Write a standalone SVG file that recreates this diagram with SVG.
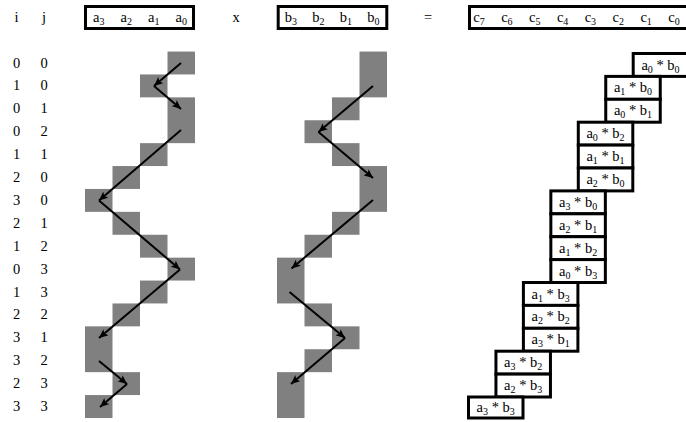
<svg xmlns="http://www.w3.org/2000/svg" width="686" height="422" viewBox="0 0 686 422">
<style>
text{font-family:"Liberation Serif","Times New Roman",Times,"DejaVu Serif",serif;font-size:14.5px;fill:#000;text-anchor:middle}
.s{font-size:10px}
.cell{fill:#808080}
.box{fill:#fff;stroke:#000;stroke-width:3}
.hbox{fill:none;stroke:#000;stroke-width:3}
.arr{stroke:#000;stroke-width:2;fill:none;marker-end:url(#ah)}
</style>
<defs>
<marker id="ah" markerUnits="userSpaceOnUse" markerWidth="10" markerHeight="8" refX="9" refY="4" orient="auto">
<path d="M0,0 L9,4 L0,8 L2,4 z" fill="#000"/>
</marker>
</defs>
<rect width="686" height="422" fill="#fff"/>

<g id="header">
<text x="16.5" y="21.5">i</text>
<text x="44" y="21.5">j</text>
<rect class="hbox" x="85.5" y="6.5" width="108" height="22"/>
<text x="98.75" y="21.5">a<tspan class="s" dy="3">3</tspan></text>
<text x="126.25" y="21.5">a<tspan class="s" dy="3">2</tspan></text>
<text x="153.75" y="21.5">a<tspan class="s" dy="3">1</tspan></text>
<text x="181.25" y="21.5">a<tspan class="s" dy="3">0</tspan></text>
<text x="236" y="21.5">x</text>
<rect class="hbox" x="278.2" y="6.5" width="108.6" height="22"/>
<text x="290.75" y="21.5">b<tspan class="s" dy="3">3</tspan></text>
<text x="318.25" y="21.5">b<tspan class="s" dy="3">2</tspan></text>
<text x="345.75" y="21.5">b<tspan class="s" dy="3">1</tspan></text>
<text x="373.25" y="21.5">b<tspan class="s" dy="3">0</tspan></text>
<text x="428" y="21.5">=</text>
<rect class="hbox" x="469.5" y="6.5" width="230" height="22"/>
<text x="479" y="21.5">c<tspan class="s" dy="3">7</tspan></text>
<text x="506.9" y="21.5">c<tspan class="s" dy="3">6</tspan></text>
<text x="534.7" y="21.5">c<tspan class="s" dy="3">5</tspan></text>
<text x="562.6" y="21.5">c<tspan class="s" dy="3">4</tspan></text>
<text x="590.4" y="21.5">c<tspan class="s" dy="3">3</tspan></text>
<text x="618.3" y="21.5">c<tspan class="s" dy="3">2</tspan></text>
<text x="646.1" y="21.5">c<tspan class="s" dy="3">1</tspan></text>
<text x="674" y="21.5">c<tspan class="s" dy="3">0</tspan></text>
</g>

<g id="indices">
<text x="16.5" y="67.5">0</text><text x="44" y="67.5">0</text>
<text x="16.5" y="90.4">1</text><text x="44" y="90.4">0</text>
<text x="16.5" y="113.3">0</text><text x="44" y="113.3">1</text>
<text x="16.5" y="136.2">0</text><text x="44" y="136.2">2</text>
<text x="16.5" y="159.1">1</text><text x="44" y="159.1">1</text>
<text x="16.5" y="182">2</text><text x="44" y="182">0</text>
<text x="16.5" y="204.9">3</text><text x="44" y="204.9">0</text>
<text x="16.5" y="227.8">2</text><text x="44" y="227.8">1</text>
<text x="16.5" y="250.7">1</text><text x="44" y="250.7">2</text>
<text x="16.5" y="273.6">0</text><text x="44" y="273.6">3</text>
<text x="16.5" y="296.5">1</text><text x="44" y="296.5">3</text>
<text x="16.5" y="319.4">2</text><text x="44" y="319.4">2</text>
<text x="16.5" y="342.3">3</text><text x="44" y="342.3">1</text>
<text x="16.5" y="365.2">3</text><text x="44" y="365.2">2</text>
<text x="16.5" y="388.1">2</text><text x="44" y="388.1">3</text>
<text x="16.5" y="411">3</text><text x="44" y="411">3</text>
</g>

<g id="a-cells">
<rect class="cell" x="167.5" y="51.55" width="27.5" height="22.9"/>
<rect class="cell" x="140" y="74.45" width="27.5" height="22.9"/>
<rect class="cell" x="167.5" y="97.35" width="27.5" height="45.8"/>
<rect class="cell" x="140" y="143.15" width="27.5" height="22.9"/>
<rect class="cell" x="112.5" y="166.05" width="27.5" height="22.9"/>
<rect class="cell" x="85" y="188.95" width="27.5" height="22.9"/>
<rect class="cell" x="112.5" y="211.85" width="27.5" height="22.9"/>
<rect class="cell" x="140" y="234.75" width="27.5" height="22.9"/>
<rect class="cell" x="167.5" y="257.65" width="27.5" height="22.9"/>
<rect class="cell" x="140" y="280.55" width="27.5" height="22.9"/>
<rect class="cell" x="112.5" y="303.45" width="27.5" height="22.9"/>
<rect class="cell" x="85" y="326.35" width="27.5" height="45.8"/>
<rect class="cell" x="112.5" y="372.15" width="27.5" height="22.9"/>
<rect class="cell" x="85" y="395.05" width="27.5" height="23"/>
</g>

<g id="b-cells">
<rect class="cell" x="359.5" y="51.55" width="27.5" height="45.8"/>
<rect class="cell" x="332" y="97.35" width="27.5" height="22.9"/>
<rect class="cell" x="304.5" y="120.25" width="27.5" height="22.9"/>
<rect class="cell" x="332" y="143.15" width="27.5" height="22.9"/>
<rect class="cell" x="359.5" y="166.05" width="27.5" height="45.8"/>
<rect class="cell" x="332" y="211.85" width="27.5" height="22.9"/>
<rect class="cell" x="304.5" y="234.75" width="27.5" height="22.9"/>
<rect class="cell" x="277" y="257.65" width="27.5" height="45.8"/>
<rect class="cell" x="304.5" y="303.45" width="27.5" height="22.9"/>
<rect class="cell" x="332" y="326.35" width="27.5" height="22.9"/>
<rect class="cell" x="304.5" y="349.25" width="27.5" height="22.9"/>
<rect class="cell" x="277" y="372.15" width="27.5" height="45.9"/>
</g>

<g id="connectors">
<line class="arr" x1="181" y1="63" x2="154" y2="86"/>
<line class="arr" x1="154" y1="86" x2="181" y2="109"/>
<line class="arr" x1="181" y1="130" x2="99" y2="200.5"/>
<line class="arr" x1="99" y1="200.5" x2="180" y2="269.5"/>
<line class="arr" x1="180" y1="269.5" x2="99" y2="338"/>
<line class="arr" x1="99" y1="361" x2="127" y2="384"/>
<line class="arr" x1="127" y1="384" x2="100" y2="407"/>
<line class="arr" x1="373" y1="86" x2="318.5" y2="132"/>
<line class="arr" x1="318.5" y1="132" x2="373" y2="178"/>
<line class="arr" x1="373" y1="200" x2="291.5" y2="268.5"/>
<line class="arr" x1="289.5" y1="292" x2="345" y2="338"/>
<line class="arr" x1="345" y1="338" x2="291" y2="384"/>
</g>

<g id="products">
<g id="p0"><rect class="box" x="633.2" y="53.5" width="54.5" height="22.9"/><text x="660.5" y="69.5">a<tspan class="s" dy="3">0</tspan><tspan dy="-3"> * b</tspan><tspan class="s" dy="3">0</tspan></text></g>
<g id="p1"><rect class="box" x="605.75" y="76.4" width="54.5" height="22.9"/><text x="633" y="92.4">a<tspan class="s" dy="3">1</tspan><tspan dy="-3"> * b</tspan><tspan class="s" dy="3">0</tspan></text></g>
<g id="p2"><rect class="box" x="605.75" y="99.3" width="54.5" height="22.9"/><text x="633" y="115.3">a<tspan class="s" dy="3">0</tspan><tspan dy="-3"> * b</tspan><tspan class="s" dy="3">1</tspan></text></g>
<g id="p3"><rect class="box" x="578.3" y="122.2" width="54.5" height="22.9"/><text x="605.5" y="138.2">a<tspan class="s" dy="3">0</tspan><tspan dy="-3"> * b</tspan><tspan class="s" dy="3">2</tspan></text></g>
<g id="p4"><rect class="box" x="578.3" y="145.1" width="54.5" height="22.9"/><text x="605.5" y="161.1">a<tspan class="s" dy="3">1</tspan><tspan dy="-3"> * b</tspan><tspan class="s" dy="3">1</tspan></text></g>
<g id="p5"><rect class="box" x="578.3" y="168" width="54.5" height="22.9"/><text x="605.5" y="184">a<tspan class="s" dy="3">2</tspan><tspan dy="-3"> * b</tspan><tspan class="s" dy="3">0</tspan></text></g>
<g id="p6"><rect class="box" x="550.85" y="190.9" width="54.5" height="22.9"/><text x="578.1" y="206.9">a<tspan class="s" dy="3">3</tspan><tspan dy="-3"> * b</tspan><tspan class="s" dy="3">0</tspan></text></g>
<g id="p7"><rect class="box" x="550.85" y="213.8" width="54.5" height="22.9"/><text x="578.1" y="229.8">a<tspan class="s" dy="3">2</tspan><tspan dy="-3"> * b</tspan><tspan class="s" dy="3">1</tspan></text></g>
<g id="p8"><rect class="box" x="550.85" y="236.7" width="54.5" height="22.9"/><text x="578.1" y="252.7">a<tspan class="s" dy="3">1</tspan><tspan dy="-3"> * b</tspan><tspan class="s" dy="3">2</tspan></text></g>
<g id="p9"><rect class="box" x="550.85" y="259.6" width="54.5" height="22.9"/><text x="578.1" y="275.6">a<tspan class="s" dy="3">0</tspan><tspan dy="-3"> * b</tspan><tspan class="s" dy="3">3</tspan></text></g>
<g id="p10"><rect class="box" x="523.4" y="282.5" width="54.5" height="22.9"/><text x="550.6" y="298.5">a<tspan class="s" dy="3">1</tspan><tspan dy="-3"> * b</tspan><tspan class="s" dy="3">3</tspan></text></g>
<g id="p11"><rect class="box" x="523.4" y="305.4" width="54.5" height="22.9"/><text x="550.6" y="321.4">a<tspan class="s" dy="3">2</tspan><tspan dy="-3"> * b</tspan><tspan class="s" dy="3">2</tspan></text></g>
<g id="p12"><rect class="box" x="523.4" y="328.3" width="54.5" height="22.9"/><text x="550.6" y="344.3">a<tspan class="s" dy="3">3</tspan><tspan dy="-3"> * b</tspan><tspan class="s" dy="3">1</tspan></text></g>
<g id="p13"><rect class="box" x="495.95" y="351.2" width="54.5" height="22.9"/><text x="523.2" y="367.2">a<tspan class="s" dy="3">3</tspan><tspan dy="-3"> * b</tspan><tspan class="s" dy="3">2</tspan></text></g>
<g id="p14"><rect class="box" x="495.95" y="374.1" width="54.5" height="22.9"/><text x="523.2" y="390.1">a<tspan class="s" dy="3">2</tspan><tspan dy="-3"> * b</tspan><tspan class="s" dy="3">3</tspan></text></g>
<g id="p15"><rect class="box" x="468.5" y="397" width="54.5" height="21"/><text x="495.7" y="412">a<tspan class="s" dy="3">3</tspan><tspan dy="-3"> * b</tspan><tspan class="s" dy="3">3</tspan></text></g>
</g>
</svg>
